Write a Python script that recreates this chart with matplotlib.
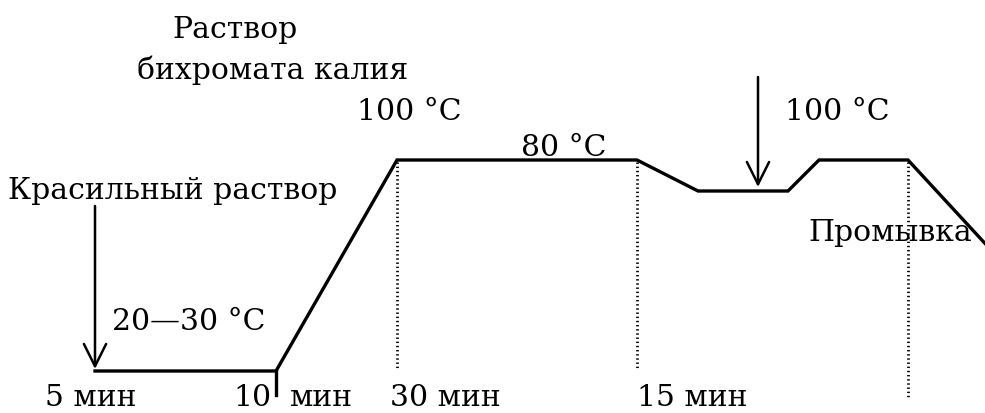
import matplotlib
matplotlib.use("Agg")
from matplotlib import pyplot as plt

# profile of the dyeing process, drawn in picture units (x to the right, y downward)
profile_x = [95, 276, 397, 637, 698, 788, 819, 908, 992]
profile_y = [372, 372, 161, 161, 192, 192, 161, 161, 252]

# dotted stage borders: x, top, bottom
stage_x = [397, 637, 908]
stage_top = [163, 163, 163]
stage_bottom = [370, 370, 400]

# arrows for adding solutions: x, start y, end y
arrow_x = [95, 758]
arrow_from = [207, 78]
arrow_to = [370, 188]

# text labels: text, x (left), y (centre)
labels = ["Раствор", "бихромата калия", "100 °C", "Красильный раствор",
          "80 °C", "100 °C", "Промывка", "20—30 °C",
          "5 мин", "10", "мин", "30 мин", "15 мин"]
label_x = [172, 137, 357, 8, 521, 785, 808, 112, 45, 233, 290, 390, 637]
label_y = [30, 70, 112, 191, 148, 112, 233, 322, 398, 398, 398, 398, 398]

plt.rcParams['font.family'] = ['DejaVu Serif']

fig = plt.figure(figsize=(9.85, 4.14), dpi=100)
ax = fig.add_axes([0, 0, 1, 1])
ax.set_xlim(0, 985)
ax.set_ylim(414, 0)
ax.axis('off')

ax.plot(profile_x, profile_y, color='black', lw=2.4, solid_joinstyle='miter')
# tick at the 10 min mark
ax.plot([276, 276], [372, 396], color='black', lw=2.4)

for x, y0, y1 in zip(stage_x, stage_top, stage_bottom):
    ax.plot([x, x], [y0, y1], color='black', lw=2.0, linestyle=(0, (0.5, 1.0)))

for x, y0, y1 in zip(arrow_x, arrow_from, arrow_to):
    ax.annotate('', xy=(x, y1), xytext=(x, y0),
                arrowprops=dict(arrowstyle='->,head_length=0.8,head_width=0.4',
                                lw=1.8, color='black', mutation_scale=20,
                                shrinkA=0, shrinkB=0))

for t, x, y in zip(labels, label_x, label_y):
    ax.text(x, y, t, fontsize=21.5, ha='left', va='center', color='black')

fig.savefig('out.png', dpi=100)
